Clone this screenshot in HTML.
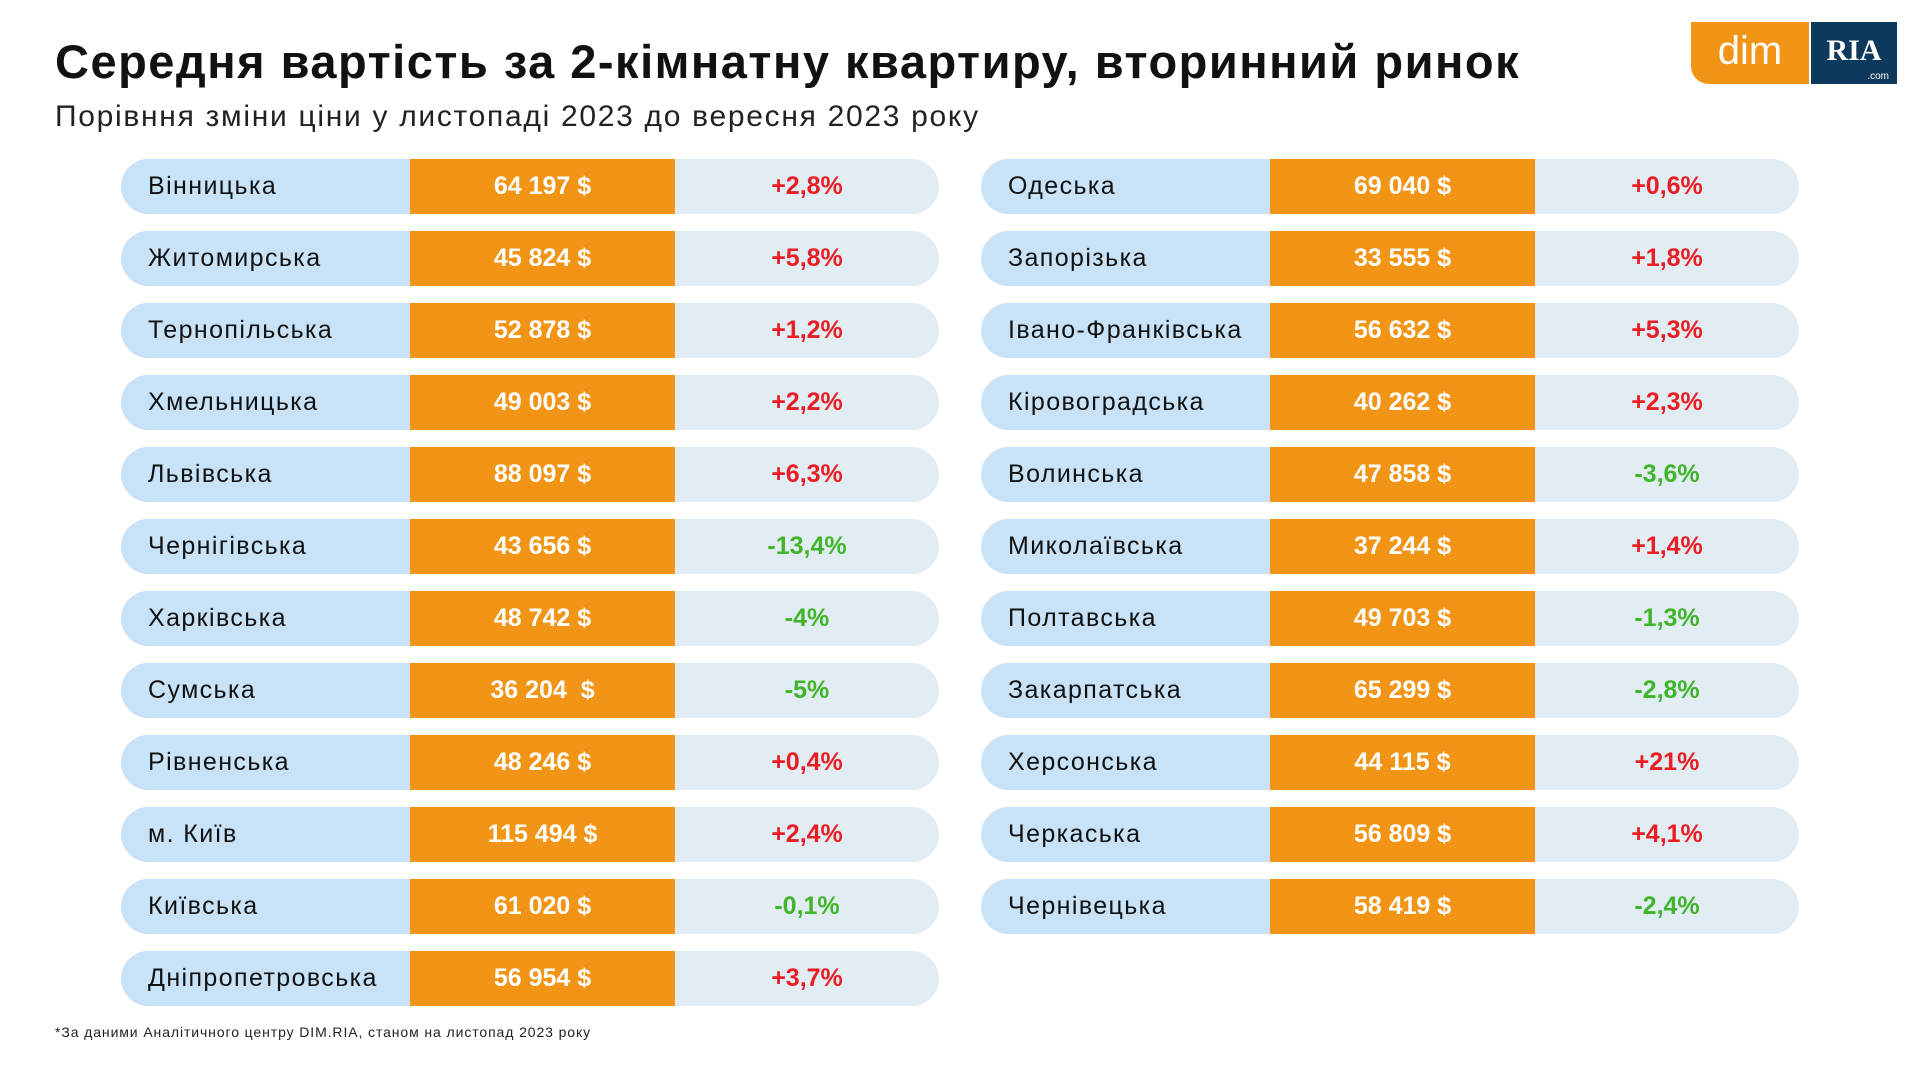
<!DOCTYPE html>
<html><head><meta charset="utf-8"><style>
body{margin:0;width:1920px;height:1080px;background:#fff;font-family:"Liberation Sans","DejaVu Sans",sans-serif;position:relative;overflow:hidden}
h1{position:absolute;left:55px;top:34px;margin:0;font-size:47px;font-weight:bold;color:#111;letter-spacing:1.5px}
.sub{position:absolute;left:55px;top:100px;font-size:30px;color:#222;letter-spacing:1.7px}
.row{position:absolute;height:55px;width:818px}
.row .a{position:absolute;left:0;top:0;width:289px;height:55px;background:#c8e2f7;border-radius:28px 0 0 28px;font-size:25px;line-height:55px;padding-left:27px;box-sizing:border-box;color:#111;letter-spacing:1.4px;white-space:nowrap}
.row .b{position:absolute;left:289px;top:0;width:265px;height:55px;background:#f29516;color:#fff;font-weight:bold;font-size:25px;line-height:55px;text-align:center;letter-spacing:0px}
.row .c{position:absolute;left:554px;top:0;width:264px;height:55px;background:#e2ecf3;border-radius:0 28px 28px 0;font-weight:bold;font-size:25px;line-height:55px;text-align:center;letter-spacing:0px}
.r{color:#ea1c24}.g{color:#3fb52a}
.foot{position:absolute;left:55px;top:1024px;font-size:14px;color:#222;letter-spacing:0.9px}
.dim{position:absolute;left:1691px;top:22px;width:118px;height:62px;background:#f29516;border-radius:0 0 0 18px;color:#fff;font-size:40px;line-height:58px;text-align:center}
.ria{position:absolute;left:1811px;top:22px;width:86px;height:62px;background:#0d3a5c;color:#fff;font-family:"Liberation Serif",serif;font-weight:bold;font-size:30px;line-height:58px;text-align:center}
.ria small{position:absolute;right:8px;bottom:2px;font-size:10px;line-height:10px;font-weight:normal;font-family:"Liberation Sans",sans-serif}
</style></head><body>
<h1>Середня вартість за 2-кімнатну квартиру, вторинний ринок</h1>
<div class="sub">Порівння зміни ціни у листопаді 2023 до вересня 2023 року</div>
<div class="dim">dim</div><div class="ria">RIA<small>.com</small></div>
<div id="c"></div>
<div class="foot">*За даними Аналітичного центру DIM.RIA, станом на листопад 2023 року</div>
<script>
var L=[["Вінницька","64 197 $","+2,8%"],["Житомирська","45 824 $","+5,8%"],["Тернопільська","52 878 $","+1,2%"],["Хмельницька","49 003 $","+2,2%"],["Львівська","88 097 $","+6,3%"],["Чернігівська","43 656 $","-13,4%"],["Харківська","48 742 $","-4%"],["Сумська","36 204&nbsp; $","-5%"],["Рівненська","48 246 $","+0,4%"],["м. Київ","115 494 $","+2,4%"],["Київська","61 020 $","-0,1%"],["Дніпропетровська","56 954 $","+3,7%"]];
var R=[["Одеська","69 040 $","+0,6%"],["Запорізька","33 555 $","+1,8%"],["Івано-Франківська","56 632 $","+5,3%"],["Кіровоградська","40 262 $","+2,3%"],["Волинська","47 858 $","-3,6%"],["Миколаївська","37 244 $","+1,4%"],["Полтавська","49 703 $","-1,3%"],["Закарпатська","65 299 $","-2,8%"],["Херсонська","44 115 $","+21%"],["Черкаська","56 809 $","+4,1%"],["Чернівецька","58 419 $","-2,4%"]];
var h="";
function add(a,x){a.forEach(function(d,i){h+='<div class="row" style="left:'+x+'px;top:'+(159+i*72)+'px"><div class="a">'+d[0]+'</div><div class="b">'+d[1]+'</div><div class="c '+(d[2][0]=="+"?"r":"g")+'">'+d[2]+'</div></div>';});}
add(L,121);add(R,981);
document.getElementById("c").innerHTML=h;
</script>
</body></html>
